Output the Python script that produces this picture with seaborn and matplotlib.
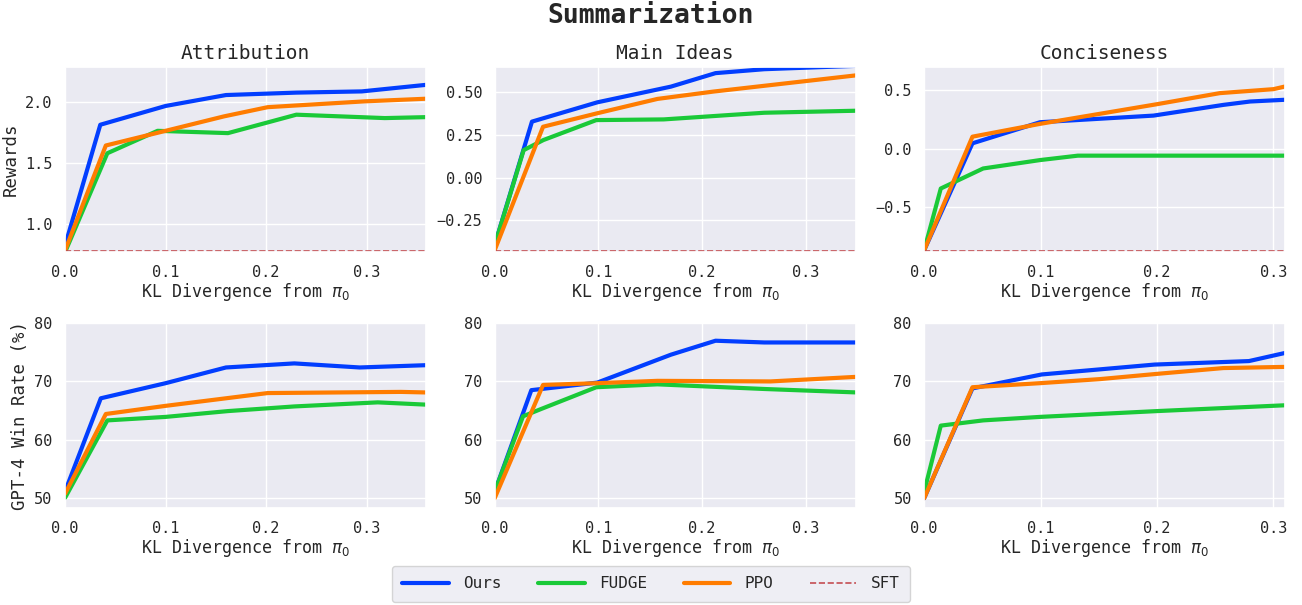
import matplotlib
matplotlib.use("Agg")
import matplotlib.pyplot as plt
import seaborn as sns

# Method names and colours
methods = ["Ours", "FUDGE", "PPO"]
colors = {"Ours": "#023eff", "FUDGE": "#1ac938", "PPO": "#ff7c00"}
sft_color = "#c44e52"

titles = ["Attribution", "Main Ideas", "Conciseness"]

# ---- Rewards (top row) ----
attr_rew = {
    "Ours": ([0.0, 0.035, 0.1, 0.16, 0.23, 0.295, 0.36], [0.82, 1.815, 1.97, 2.06, 2.08, 2.09, 2.145]),
    "FUDGE": ([0.0, 0.042, 0.092, 0.162, 0.23, 0.318, 0.36], [0.765, 1.58, 1.765, 1.746, 1.898, 1.87, 1.878]),
    "PPO": ([0.0, 0.0405, 0.1, 0.158, 0.2015, 0.298, 0.36], [0.78, 1.644, 1.765, 1.884, 1.96, 2.008, 2.03]),
}
main_rew = {
    "Ours": ([0.0, 0.036, 0.099, 0.17, 0.213, 0.26, 0.35], [-0.396, 0.328, 0.441, 0.533, 0.612, 0.635, 0.655]),
    "FUDGE": ([0.0, 0.028, 0.047, 0.098, 0.163, 0.227, 0.26, 0.35], [-0.397, 0.161, 0.22, 0.337, 0.341, 0.367, 0.38, 0.392]),
    "PPO": ([0.0, 0.0467, 0.099, 0.157, 0.211, 0.35], [-0.426, 0.298, 0.377, 0.461, 0.504, 0.6]),
}
conc_rew = {
    "Ours": ([0.0, 0.0415, 0.0995, 0.197, 0.257, 0.28, 0.31], [-0.873, 0.046, 0.227, 0.284, 0.376, 0.405, 0.42]),
    "FUDGE": ([0.0, 0.0143, 0.0507, 0.0995, 0.132, 0.31], [-0.873, -0.342, -0.17, -0.098, -0.06, -0.06]),
    "PPO": ([0.0, 0.0415, 0.0995, 0.2, 0.254, 0.3, 0.31], [-0.873, 0.103, 0.213, 0.382, 0.477, 0.511, 0.534]),
}
sft_rew = [0.77, -0.432, -0.882]

# ---- GPT-4 win rate (bottom row) ----
attr_win = {
    "Ours": ([0.0, 0.0355, 0.1, 0.16, 0.228, 0.293, 0.36], [51.1, 67.1, 69.7, 72.4, 73.1, 72.4, 72.8]),
    "FUDGE": ([0.0, 0.042, 0.1, 0.162, 0.228, 0.311, 0.36], [50.0, 63.3, 63.9, 64.9, 65.7, 66.4, 66.0]),
    "PPO": ([0.0, 0.0405, 0.1, 0.2015, 0.334, 0.36], [50.7, 64.4, 65.8, 68.0, 68.2, 68.1]),
}
main_win = {
    "Ours": ([0.0, 0.0354, 0.099, 0.17, 0.213, 0.26, 0.35], [51.0, 68.5, 69.8, 74.6, 77.0, 76.7, 76.7]),
    "FUDGE": ([0.0, 0.0274, 0.044, 0.098, 0.157, 0.26, 0.35], [51.0, 64.0, 65.2, 69.0, 69.5, 68.7, 68.1]),
    "PPO": ([0.0, 0.0467, 0.099, 0.157, 0.266, 0.35], [49.9, 69.4, 69.7, 70.1, 70.0, 70.8]),
}
conc_win = {
    "Ours": ([0.0, 0.0415, 0.101, 0.198, 0.279, 0.31], [49.9, 68.8, 71.2, 72.9, 73.5, 74.9]),
    "FUDGE": ([0.0, 0.0143, 0.0507, 0.0995, 0.2, 0.31], [51.0, 62.4, 63.3, 63.9, 64.9, 65.9]),
    "PPO": ([0.0, 0.0415, 0.0995, 0.151, 0.2, 0.257, 0.31], [49.9, 69.0, 69.7, 70.4, 71.3, 72.3, 72.5]),
}

x_max = [0.359, 0.348, 0.31]
rew_ylim = [(0.765, 2.29), (-0.436, 0.647), (-0.888, 0.70)]
rew_ticks = [[1.0, 1.5, 2.0], [-0.25, 0.0, 0.25, 0.5], [-0.5, 0.0, 0.5]]
win_ylim = (48.2, 80)

sns.set_theme(style="darkgrid")
plt.rcParams["font.family"] = ["DejaVu Sans Mono"]

fig, axes = plt.subplots(2, 3, figsize=(13.02, 6.05), dpi=100)
fig.subplots_adjust(left=0.05, right=0.987, top=0.889, bottom=0.16,
                    wspace=0.19, hspace=0.385)

rew_data = [attr_rew, main_rew, conc_rew]
win_data = [attr_win, main_win, conc_win]

for j in range(3):
    ax = axes[0, j]
    for m in methods:
        xs, ys = rew_data[j][m]
        sns.lineplot(x=xs, y=ys, ax=ax, color=colors[m], linewidth=3, label=m)
    ax.axhline(sft_rew[j], color=sft_color, linestyle="--", linewidth=1.2, label="SFT")
    ax.set_xlim(0, x_max[j])
    ax.set_ylim(*rew_ylim[j])
    ax.set_yticks(rew_ticks[j])
    ax.set_title(titles[j], fontsize=14)
    if j == 0:
        ax.set_ylabel("Rewards", fontsize=12.5)

    ax = axes[1, j]
    for m in methods:
        xs, ys = win_data[j][m]
        sns.lineplot(x=xs, y=ys, ax=ax, color=colors[m], linewidth=3, label=m)
    ax.set_xlim(0, x_max[j])
    ax.set_ylim(*win_ylim)
    ax.set_yticks([50, 60, 70, 80])
    if j == 0:
        ax.set_ylabel("GPT-4 Win Rate (%)", fontsize=12.5)

for ax in axes.flat:
    ax.set_xticks([0.0, 0.1, 0.2, 0.3])
    ax.set_xlabel(r"KL Divergence from $\pi_0$", fontsize=12, labelpad=1)
    ax.tick_params(labelsize=11, pad=3)
    if ax.get_legend() is not None:
        ax.get_legend().remove()

handles, labels = axes[0, 0].get_legend_handles_labels()
fig.legend(handles, labels, loc="lower center", ncol=4, bbox_to_anchor=(0.5, -0.008),
           fontsize=11.5, handlelength=2.9, handletextpad=0.9, columnspacing=2.3,
           borderpad=0.65)

fig.suptitle("Summarization", fontsize=19, fontweight="bold", y=0.995)

plt.savefig("out.png", dpi=100)
